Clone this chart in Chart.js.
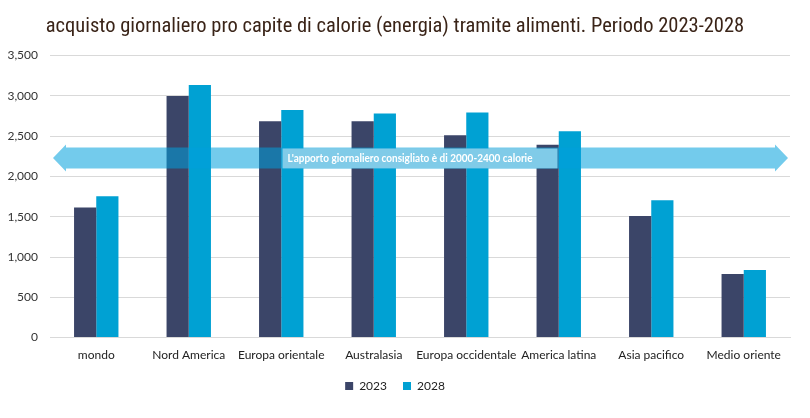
<!DOCTYPE html>
<html>
<head>
<meta charset="utf-8">
<script src="https://cdn.jsdelivr.net/npm/chart.js@4"></script>
<style>
  html, body { margin: 0; padding: 0; background: #fff; }
  #wrap { width: 810px; height: 418px; }
</style>
</head>
<body>
<div id="wrap"><canvas id="chart"></canvas></div>
<script>
const categories = ['mondo', 'Nord America', 'Europa orientale', 'Australasia',
  'Europa occidentale', 'America latina', 'Asia pacifico', 'Medio oriente']
const values2023 = [1615, 3000, 2685, 2685, 2510, 2395, 1510, 790]
const values2028 = [1755, 3135, 2825, 2780, 2795, 2560, 1705, 840]
const yTicks = [0, 500, 1000, 1500, 2000, 2500, 3000, 3500]
// banda della freccia (valori sull'asse y)
const arrowBand = [2100, 2360]
const arrowText = "L'apporto giornaliero consigliato è di 2000-2400 calorie"

const arrowPlugin = {
  id: 'arrow',
  afterDatasetsDraw(chart) {
    const {ctx, chartArea, scales} = chart
    const y = scales.y
    const top = y.getPixelForValue(arrowBand[1])
    const bot = y.getPixelForValue(arrowBand[0])
    const mid = (top + bot) / 2
    const head = 13, flare = 3
    const x0 = chartArea.left + 3, x1 = chartArea.right - 2
    ctx.save()
    ctx.fillStyle = 'rgba(0,160,220,0.55)'
    ctx.beginPath()
    ctx.moveTo(x0, mid)
    ctx.lineTo(x0 + head, top - flare)
    ctx.lineTo(x0 + head, top)
    ctx.lineTo(x1 - head, top)
    ctx.lineTo(x1 - head, top - flare)
    ctx.lineTo(x1, mid)
    ctx.lineTo(x1 - head, bot + flare)
    ctx.lineTo(x1 - head, bot)
    ctx.lineTo(x0 + head, bot)
    ctx.lineTo(x0 + head, bot + flare)
    ctx.closePath()
    ctx.fill()
    // riquadro del testo
    const cx = (chartArea.left + chartArea.right) / 2
    const bw = 275
    ctx.fillStyle = '#80cbe8'
    ctx.fillRect(cx - bw / 2, top + 1, bw, bot - top - 1)
    ctx.fillStyle = '#ffffff'
    ctx.font = 'bold 10.5px Lato, sans-serif'
    ctx.textBaseline = 'middle'
    ctx.textAlign = 'left'
    ctx.fillText(arrowText, cx - bw / 2 + 5, mid + 1, 245)
    ctx.restore()
  }
}

new Chart(document.getElementById('chart'), {
  type: 'bar',
  data: {
    labels: categories,
    datasets: [
      {label: '2023', data: values2023, backgroundColor: '#3b4568'},
      {label: '2028', data: values2028, backgroundColor: '#00a1d3'}
    ]
  },
  options: {
    responsive: true,
    maintainAspectRatio: false,
    animation: false,
    layout: {padding: {left: 0, right: 20, top: 10, bottom: 16}},
    datasets: {bar: {categoryPercentage: 0.48, barPercentage: 1.0}},
    scales: {
      x: {
        grid: {display: false},
        border: {color: '#d9d9d9'},
        ticks: {color: '#222', font: {family: 'Lato, sans-serif', size: 12}, padding: 2, maxRotation: 0, autoSkip: false}
      },
      y: {
        min: 0, max: 3500,
        afterFit(scale) { scale.width = 50 },
        afterBuildTicks(scale) { scale.ticks = yTicks.map(v => ({value: v})) },
        grid: {color: '#d9d9d9', drawTicks: false},
        border: {display: false},
        ticks: {
          color: '#333', padding: 12,
          font: {family: 'Lato, sans-serif', size: 12},
          callback: v => v.toLocaleString('en-US')
        }
      }
    },
    plugins: {
      title: {
        display: true,
        text: 'acquisto giornaliero pro capite di calorie (energia) tramite alimenti. Periodo 2023-2028',
        color: '#3a2418',
        font: {family: "'Liberation Sans Narrow', 'Roboto Condensed', 'Liberation Sans', sans-serif", size: 20.5, weight: 'normal'},
        padding: {top: 5, bottom: 16}
      },
      legend: {
        position: 'bottom',
        labels: {
          color: '#222', boxWidth: 8, boxHeight: 8, padding: 16,
          font: {family: 'Lato, sans-serif', size: 12}
        }
      },
      tooltip: {enabled: false}
    }
  },
  plugins: [arrowPlugin]
})
</script>
</body>
</html>
